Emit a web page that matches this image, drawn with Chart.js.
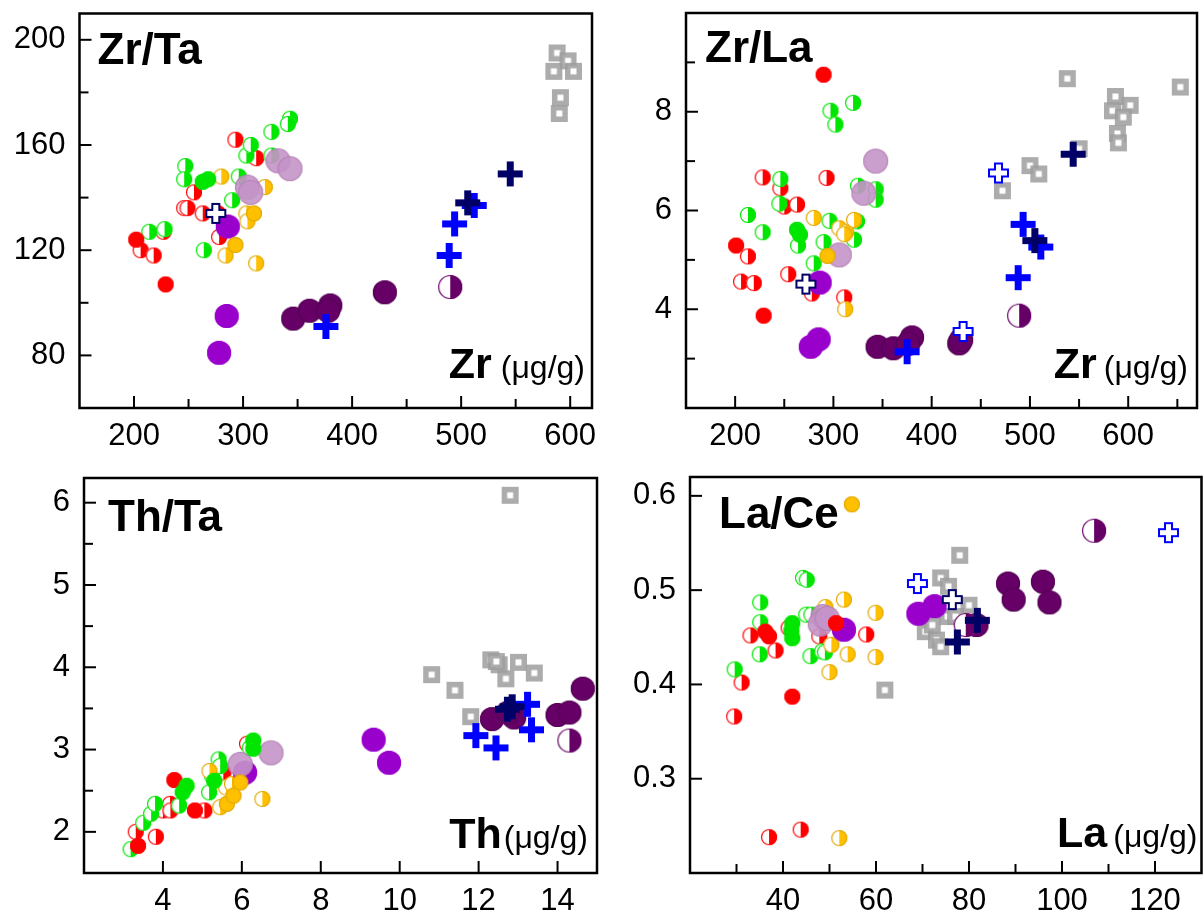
<!DOCTYPE html>
<html>
<head>
<meta charset="utf-8">
<title>Zr/Ta, Zr/La, Th/Ta, La/Ce</title>
<script src="https://cdn.jsdelivr.net/npm/chart.js@4.4.1/dist/chart.umd.min.js"></script>
<style>
  html, body { margin: 0; background: #fff; }
  #page { position: relative; width: 1203px; height: 912px; overflow: hidden; }
  #page canvas { position: absolute; left: -100px; top: -100px; }
</style>
</head>
<body>
<div id="page"></div>
<script>
// sample groups, listed from the bottom layer to the top layer
const GROUPS = ['gray', 'darkPurple', 'darkHalf', 'redHalf', 'greenHalf', 'yellowHalf',
  'violet', 'lilac', 'redFill', 'greenFill', 'yellowFill', 'blueCross', 'navyCross',
  'blueOpen', 'navyOpen'];

// [group, Zr (µg/g), Zr/Ta]
const ZR_TA = [
  ['gray', 588, 195], ['gray', 598, 192], ['gray', 585, 188], ['gray', 603, 188], ['gray', 591, 178], ['gray', 590, 172],
  ['redFill', 202, 124], ['redFill', 229, 107],
  ['redHalf', 206, 120], ['redHalf', 218, 118], ['redHalf', 246, 136], ['redHalf', 249, 136], ['redHalf', 263, 134],
  ['redHalf', 277, 134], ['redHalf', 278, 125], ['redHalf', 255, 142], ['redHalf', 293, 162], ['redHalf', 312, 155],
  ['redHalf', 227, 127],
  ['greenHalf', 214, 127], ['greenHalf', 228, 128], ['greenHalf', 264, 120], ['greenHalf', 247, 152], ['greenHalf', 246, 147],
  ['greenHalf', 296, 148], ['greenHalf', 290, 139], ['greenHalf', 303, 156], ['greenHalf', 307, 160], ['greenHalf', 326, 165],
  ['greenHalf', 343, 170], ['greenHalf', 341, 168], ['greenHalf', 326, 156],
  ['greenFill', 263, 146], ['greenFill', 268, 147],
  ['yellowHalf', 280, 148], ['yellowHalf', 320, 144], ['yellowHalf', 303, 134], ['yellowHalf', 304, 131],
  ['yellowHalf', 284, 118], ['yellowHalf', 312, 115],
  ['yellowFill', 293, 122], ['yellowFill', 310, 134],
  ['violet', 286, 129], ['violet', 285, 95], ['violet', 278, 81],
  ['lilac', 332, 154], ['lilac', 343, 151], ['lilac', 304, 144], ['lilac', 307, 142],
  ['darkPurple', 346, 94], ['darkPurple', 361, 97], ['darkPurple', 380, 99], ['darkPurple', 378, 97], ['darkPurple', 430, 104],
  ['darkHalf', 490, 106],
  ['blueCross', 376, 91], ['blueCross', 489, 118], ['blueCross', 494, 130], ['blueCross', 512, 137],
  ['navyCross', 506, 138], ['navyCross', 545, 149],
  ['navyOpen', 275, 134]
];

// [group, Zr (µg/g), Zr/La]
const ZR_LA = [
  ['gray', 538, 8.67], ['gray', 653, 8.50], ['gray', 587, 8.31], ['gray', 602, 8.13], ['gray', 584, 8.02], ['gray', 595, 7.89],
  ['gray', 589, 7.56], ['gray', 590, 7.37], ['gray', 550, 7.25], ['gray', 500, 6.91], ['gray', 509, 6.74], ['gray', 472, 6.40],
  ['redFill', 290, 8.75], ['redFill', 201, 5.29], ['redFill', 229, 3.87],
  ['redHalf', 228, 6.67], ['redHalf', 246, 6.45], ['redHalf', 293, 6.66], ['redHalf', 250, 6.08], ['redHalf', 263, 6.12],
  ['redHalf', 213, 5.07], ['redHalf', 206, 4.56], ['redHalf', 219, 4.53], ['redHalf', 254, 4.71], ['redHalf', 278, 4.32],
  ['redHalf', 311, 4.24],
  ['greenHalf', 297, 8.02], ['greenHalf', 302, 7.74], ['greenHalf', 320, 8.18], ['greenHalf', 325, 6.50], ['greenHalf', 343, 6.43],
  ['greenHalf', 343, 6.22], ['greenHalf', 246, 6.64], ['greenHalf', 245, 6.14], ['greenHalf', 213, 5.91], ['greenHalf', 228, 5.56],
  ['greenHalf', 264, 5.29], ['greenHalf', 280, 4.93], ['greenHalf', 290, 5.36], ['greenHalf', 296, 5.79], ['greenHalf', 324, 5.78],
  ['greenHalf', 321, 5.41],
  ['greenFill', 263, 5.61], ['greenFill', 266, 5.51],
  ['yellowHalf', 280, 5.85], ['yellowHalf', 306, 5.64], ['yellowHalf', 313, 5.56], ['yellowHalf', 311, 5.52],
  ['yellowHalf', 321, 5.81], ['yellowHalf', 312, 4.00],
  ['yellowFill', 294, 5.08],
  ['violet', 286, 4.54], ['violet', 277, 3.24], ['violet', 285, 3.39],
  ['lilac', 343, 7.00], ['lilac', 331, 6.35], ['lilac', 306, 5.10],
  ['darkPurple', 345, 3.24], ['darkPurple', 361, 3.21], ['darkPurple', 380, 3.43], ['darkPurple', 376, 3.30],
  ['darkPurple', 428, 3.31], ['darkPurple', 430, 3.38],
  ['darkHalf', 489, 3.87],
  ['blueCross', 375, 3.14], ['blueCross', 488, 4.64], ['blueCross', 493, 5.72], ['blueCross', 511, 5.26],
  ['navyCross', 505, 5.39], ['navyCross', 544, 7.14],
  ['blueOpen', 468, 6.76], ['blueOpen', 432, 3.55],
  ['navyOpen', 272, 4.51]
];

// [group, Th (µg/g), Th/Ta]
const TH_TA = [
  ['gray', 12.8, 6.09], ['gray', 10.81, 3.91], ['gray', 11.40, 3.72], ['gray', 11.80, 3.40], ['gray', 12.31, 4.09],
  ['gray', 12.52, 4.03], ['gray', 12.69, 3.86], ['gray', 13.01, 4.06], ['gray', 13.41, 3.93], ['gray', 12.45, 4.07],
  ['redFill', 3.37, 1.83], ['redFill', 4.29, 2.63], ['redFill', 4.81, 2.26],
  ['redHalf', 3.31, 2.00], ['redHalf', 3.82, 1.94], ['redHalf', 4.00, 2.26], ['redHalf', 4.18, 2.34], ['redHalf', 4.19, 2.26],
  ['redHalf', 5.05, 2.26], ['redHalf', 5.53, 2.72], ['redHalf', 6.13, 3.07],
  ['greenHalf', 3.18, 1.79], ['greenHalf', 3.50, 2.11], ['greenHalf', 3.70, 2.22], ['greenHalf', 3.80, 2.34],
  ['greenHalf', 4.41, 2.32], ['greenHalf', 5.17, 2.48], ['greenHalf', 5.41, 2.88], ['greenHalf', 5.24, 2.68],
  ['greenHalf', 5.45, 2.80], ['greenHalf', 6.20, 3.02],
  ['greenFill', 4.60, 2.56], ['greenFill', 4.50, 2.48], ['greenFill', 6.29, 3.11], ['greenFill', 6.29, 3.01], ['greenFill', 5.30, 2.62],
  ['yellowHalf', 5.18, 2.74], ['yellowHalf', 5.45, 2.30], ['yellowHalf', 5.60, 2.54], ['yellowHalf', 6.52, 2.40], ['yellowHalf', 5.75, 2.58],
  ['yellowFill', 5.62, 2.34], ['yellowFill', 5.79, 2.44], ['yellowFill', 5.96, 2.60],
  ['violet', 6.08, 2.72], ['violet', 9.34, 3.12], ['violet', 9.73, 2.84],
  ['lilac', 5.96, 2.82], ['lilac', 6.74, 2.96],
  ['darkPurple', 12.34, 3.37], ['darkPurple', 12.90, 3.39], ['darkPurple', 12.75, 3.45], ['darkPurple', 14.00, 3.42],
  ['darkPurple', 14.30, 3.45], ['darkPurple', 14.64, 3.74],
  ['darkHalf', 14.30, 3.11],
  ['blueCross', 13.24, 3.55], ['blueCross', 13.34, 3.24], ['blueCross', 11.93, 3.17], ['blueCross', 12.44, 3.02],
  ['navyCross', 12.73, 3.49], ['navyCross', 12.85, 3.52]
];

// [group, La (µg/g), La/Ce]
const LA_CE = [
  ['gray', 61.9, 0.394], ['gray', 78.0, 0.537], ['gray', 73.9, 0.513], ['gray', 75.6, 0.504], ['gray', 80.0, 0.484],
  ['gray', 75.4, 0.472], ['gray', 77.1, 0.472], ['gray', 70.6, 0.456], ['gray', 72.1, 0.463], ['gray', 73.0, 0.447],
  ['gray', 73.9, 0.440],
  ['redFill', 37.0, 0.451], ['redFill', 36.2, 0.456], ['redFill', 42.0, 0.387], ['redFill', 51.4, 0.465],
  ['redHalf', 33.0, 0.452], ['redHalf', 38.4, 0.436], ['redHalf', 31.1, 0.402], ['redHalf', 29.5, 0.366], ['redHalf', 41.2, 0.460],
  ['redHalf', 57.9, 0.453], ['redHalf', 47.8, 0.451], ['redHalf', 37.0, 0.238], ['redHalf', 43.8, 0.246],
  ['greenHalf', 44.3, 0.513], ['greenHalf', 45.1, 0.511], ['greenHalf', 35.1, 0.487], ['greenHalf', 35.1, 0.466],
  ['greenHalf', 35.0, 0.432], ['greenHalf', 29.6, 0.416], ['greenHalf', 45.9, 0.430], ['greenHalf', 45.0, 0.474],
  ['greenHalf', 46.1, 0.474], ['greenHalf', 48.4, 0.435], ['greenHalf', 49.0, 0.434],
  ['greenFill', 42.0, 0.465], ['greenFill', 42.0, 0.449], ['greenFill', 41.8, 0.457],
  ['yellowHalf', 49.1, 0.482], ['yellowHalf', 53.1, 0.490], ['yellowHalf', 59.9, 0.476], ['yellowHalf', 50.4, 0.442],
  ['yellowHalf', 53.9, 0.432], ['yellowHalf', 59.9, 0.429], ['yellowHalf', 50.0, 0.413], ['yellowHalf', 52.1, 0.237],
  ['yellowFill', 54.8, 0.591],
  ['violet', 53.1, 0.458], ['violet', 69.1, 0.475], ['violet', 72.6, 0.483],
  ['lilac', 48.6, 0.472], ['lilac', 48.0, 0.464], ['lilac', 49.5, 0.470],
  ['darkPurple', 81.6, 0.463], ['darkPurple', 88.4, 0.507], ['darkPurple', 89.6, 0.490], ['darkPurple', 95.9, 0.509],
  ['darkPurple', 97.3, 0.487],
  ['darkHalf', 106.9, 0.563], ['darkHalf', 79.3, 0.463],
  ['navyCross', 81.8, 0.468], ['navyCross', 77.5, 0.445],
  ['blueOpen', 68.9, 0.507], ['blueOpen', 122.9, 0.561],
  ['navyOpen', 76.4, 0.490]
];

const FONT = '"Liberation Sans", Arial, sans-serif';

// ---- marker bitmaps -------------------------------------------------------

function newCanvas(s) {
  const c = document.createElement('canvas');
  c.width = c.height = s;
  return c;
}

// filled disc, or a disc with its left half white ("half")
function circleMarker(r, fill, half, edge) {
  const s = Math.ceil(r * 2 + 4);
  const c = newCanvas(s);
  const g = c.getContext('2d');
  const m = s / 2;
  g.beginPath();
  g.arc(m, m, r, 0, Math.PI * 2);
  g.fillStyle = half ? '#fff' : fill;
  g.fill();
  if (half) {
    g.beginPath();
    g.moveTo(m, m - r);
    g.arc(m, m, r, -Math.PI / 2, Math.PI / 2);
    g.closePath();
    g.fillStyle = fill;
    g.fill();
  }
  g.beginPath();
  g.arc(m, m, r - 0.5, 0, Math.PI * 2);
  g.lineWidth = 1.2;
  g.strokeStyle = edge || fill;
  g.stroke();
  return c;
}

function crossMarker(size, arm, color, open) {
  const s = size + 4;
  const c = newCanvas(s);
  const g = c.getContext('2d');
  const m = s / 2, h = size / 2, a = arm / 2;
  const pts = [[-a, -h], [a, -h], [a, -a], [h, -a], [h, a], [a, a], [a, h], [-a, h], [-a, a], [-h, a], [-h, -a], [-a, -a]];
  g.beginPath();
  pts.forEach(([px, py], i) => i ? g.lineTo(m + px, m + py) : g.moveTo(m + px, m + py));
  g.closePath();
  if (open) {
    g.fillStyle = '#fff';
    g.fill();
    g.lineWidth = 2;
    g.strokeStyle = color;
    g.stroke();
  } else {
    g.fillStyle = color;
    g.fill();
  }
  return c;
}

function boxMarker(size, lw, color) {
  const s = size + 2;
  const c = newCanvas(s);
  const g = c.getContext('2d');
  const o = 1 + lw / 2;
  g.fillStyle = '#fff';
  g.fillRect(o, o, size - lw, size - lw);
  g.lineWidth = lw;
  g.strokeStyle = color;
  g.strokeRect(o, o, size - lw, size - lw);
  return c;
}

const MARKERS = {
  gray: boxMarker(17, 5.5, 'rgba(158,158,158,0.85)'),
  darkPurple: circleMarker(12, '#660066', false, '#550055'),
  darkHalf: circleMarker(12, '#660066', true),
  redHalf: circleMarker(8, '#ff0000', true),
  greenHalf: circleMarker(8, '#00e600', true),
  yellowHalf: circleMarker(8, '#ffc000', true, '#e0a800'),
  violet: circleMarker(12, '#9900cc'),
  lilac: circleMarker(12.5, 'rgba(196,148,200,0.9)', false, 'rgba(170,120,170,0.6)'),
  redFill: circleMarker(8, '#ff0000'),
  greenFill: circleMarker(8, '#00e600'),
  yellowFill: circleMarker(8, '#ffc000', false, '#e0a800'),
  blueCross: crossMarker(25, 7, '#0000ff'),
  navyCross: crossMarker(25, 7, '#000066'),
  blueOpen: crossMarker(19, 7, '#0000ff', true),
  navyOpen: crossMarker(19, 7, '#000066', true)
};

// ---- panels -----------------------------------------------------------------

// box: chart area [left, top, right, bottom] on the page
// x / y: [min, max, tick step, labelled step]
const PANELS = [
  { rows: ZR_TA, box: [79.5, 13.5, 592, 408], x: [150, 620, 50, 100], y: [60, 210, 20, 40],
    title: 'Zr/Ta', titleAt: [18, 50], unit: 'Zr', unitAt: [7, 30, 9] },
  { rows: ZR_LA, box: [686, 13, 1197, 408], x: [150, 670, 50, 100], y: [2, 10, 1, 2],
    title: 'Zr/La', titleAt: [19, 49], unit: 'Zr', unitAt: [9, 30, 7] },
  { rows: TH_TA, box: [84, 478, 597, 873], x: [2, 15, 2, 2], y: [1.5, 6.3, 0.5, 1],
    title: 'Th/Ta', titleAt: [24, 53], unit: 'Th', unitAt: [9, 25, 2] },
  { rows: LA_CE, box: [690, 477, 1201.5, 873], x: [20, 130, 10, 20], y: [0.2, 0.62, 0.1, 0.1],
    title: 'La/Ce', titleAt: [29, 51], unit: 'La', unitAt: [4, 26, 6] }
];

const CW = 1403, CH = 1112, OFF = 100;   // canvas overhangs the page by OFF on every side
const Y_W = 100, X_H = 60;               // fixed axis box sizes

const near = (v, step) => Math.abs(v / step - Math.round(v / step)) < 1e-6;
const inside = (v, min, max) => v > min + 1e-9 && v < max - 1e-9;

function axis(spec, pad, fit) {
  const [min, max, step, major] = spec;
  return {
    type: 'linear', min, max,
    grid: { display: false, drawTicks: false },
    border: { display: false },
    ticks: {
      stepSize: step, includeBounds: false, autoSkip: false, maxRotation: 0, padding: pad,
      color: '#000', font: { family: FONT, size: 31 },
      callback: v => (inside(v, min, max) && near(v, major)) ? String(+v.toFixed(2)) : ''
    },
    afterFit: fit
  };
}

// frame, inward tick marks, panel title and axis name
const framePlugin = {
  id: 'frame',
  afterDatasetsDraw(chart, args, opts) {
    const { ctx, chartArea: a } = chart;
    const p = opts.panel;
    ctx.save();
    ctx.strokeStyle = '#000';
    ctx.lineWidth = 2;
    [['x', p.x], ['y', p.y]].forEach(([id, spec]) => {
      const sc = chart.scales[id];
      sc.ticks.forEach(t => {
        if (!inside(t.value, spec[0], spec[1])) return;
        const len = near(t.value, spec[3]) ? 12 : 9;
        const px = sc.getPixelForValue(t.value);
        ctx.beginPath();
        if (id === 'x') { ctx.moveTo(px, a.bottom); ctx.lineTo(px, a.bottom - len); }
        else { ctx.moveTo(a.left, px); ctx.lineTo(a.left + len, px); }
        ctx.stroke();
      });
    });
    ctx.lineWidth = 2.5;
    ctx.strokeRect(a.left, a.top, a.right - a.left, a.bottom - a.top);

    ctx.fillStyle = '#000';
    ctx.textBaseline = 'alphabetic';
    ctx.textAlign = 'left';
    ctx.font = 'bold 44px ' + FONT;
    ctx.fillText(p.title, a.left + p.titleAt[0], a.top + p.titleAt[1]);

    const [dr, db, gap] = p.unitAt;
    const right = a.right - dr, base = a.bottom - db;
    ctx.textAlign = 'right';
    ctx.font = '32px ' + FONT;
    ctx.fillText('(\u03bcg/g)', right, base);
    const w = ctx.measureText('(\u03bcg/g)').width;
    ctx.font = 'bold 43px ' + FONT;
    ctx.fillText(p.unit, right - w - gap, base);
    ctx.restore();
  }
};

function datasets(rows) {
  return GROUPS.map((g, i) => ({
    label: g,
    data: rows.filter(r => r[0] === g).map(r => ({ x: r[1], y: r[2] })),
    pointStyle: MARKERS[g],
    pointRadius: 8,
    order: GROUPS.length - i
  }));
}

PANELS.forEach(p => {
  const [L, T, R, B] = p.box;
  const canvas = document.createElement('canvas');
  canvas.width = CW;
  canvas.height = CH;
  canvas.style.width = CW + 'px';
  canvas.style.height = CH + 'px';
  document.getElementById('page').appendChild(canvas);

  new Chart(canvas, {
    type: 'scatter',
    data: { datasets: datasets(p.rows) },
    options: {
      responsive: false,
      animation: false,
      devicePixelRatio: 1,
      events: [],
      layout: {
        padding: { left: OFF + L - Y_W, top: OFF + T, right: CW - OFF - R, bottom: CH - OFF - B - X_H }
      },
      plugins: {
        legend: { display: false },
        tooltip: { enabled: false },
        frame: { panel: p }
      },
      scales: {
        x: axis(p.x, 10, s => { s.height = X_H; }),
        y: axis(p.y, 14, s => { s.width = Y_W; })
      }
    },
    plugins: [framePlugin]
  });
});
</script>
</body>
</html>
